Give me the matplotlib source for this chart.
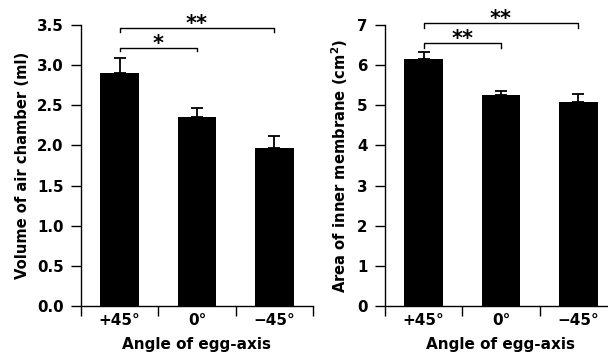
import matplotlib
matplotlib.use("Agg")
import matplotlib.pyplot as plt
from matplotlib.transforms import offset_copy

plt.rcParams['font.family'] = ['DejaVu Sans']
plt.rcParams['font.weight'] = 'bold'
plt.rcParams['mathtext.fontset'] = 'custom'
plt.rcParams['mathtext.rm'] = 'DejaVu Sans:bold'
plt.rcParams['mathtext.bf'] = 'DejaVu Sans:bold'

categories = ["+45°", "0°", "\u221245°"]
volume = [2.90, 2.36, 1.97]
volume_err = [0.19, 0.11, 0.15]
area = [6.15, 5.26, 5.08]
area_err = [0.17, 0.10, 0.20]

xlabel = "Angle of egg-axis"
ylabel_left = "Volume of air chamber (ml)"
ylabel_right = "Area of inner membrane (cm$^{2}$)"

left_brackets = [(0, 1, 3.21, 3.17, "*"), (0, 2, 3.46, 3.41, "**")]
right_brackets = [(0, 1, 6.56, 6.43, "**"), (0, 2, 7.06, 6.92, "**")]

fig = plt.figure(figsize=(6.08, 3.57), dpi=100)
W, H = 608, 357

def make_ax(x0, x1, ytop, ybot):
    return fig.add_axes([x0 / W, (H - ybot) / H, (x1 - x0) / W, (ybot - ytop) / H])

axL = make_ax(81, 313, 25, 306)
axR = make_ax(385, 617, 25, 306)

def draw(ax, vals, errs, ylim, yticks, yticklabels, ylabel, brackets):
    x = list(range(len(categories)))
    ax.bar(x, vals, width=0.5, color='black', zorder=2)
    ax.errorbar(x, vals, yerr=[[0] * len(errs), errs], fmt='none', ecolor='black',
                elinewidth=1.3, capsize=4, capthick=1.3, zorder=1)
    ax.set_xlim(-0.5, 2.5)
    ax.set_ylim(*ylim)
    ax.set_yticks(yticks)
    ax.set_yticklabels(yticklabels, fontsize=10.8, fontweight='bold')
    ax.set_xticks([-0.5, 0.5, 1.5, 2.5])
    ax.set_xticklabels([])
    ax.tick_params(axis='x', direction='out', length=7, width=1)
    ax.tick_params(axis='y', direction='out', length=7.5, width=1, pad=5)
    for i, c in enumerate(categories):
        ax.text(i, -0.025, c, transform=ax.get_xaxis_transform(), ha='center', va='top',
                fontsize=11, fontweight='bold')
    ax.text(0.5, -0.11, xlabel, transform=ax.transAxes, ha='center', va='top',
            fontsize=11, fontweight='bold')
    ax.set_ylabel(ylabel, fontsize=10.6, fontweight='bold', labelpad=5)
    for s in ['top', 'right']:
        ax.spines[s].set_visible(False)
    for s in ['left', 'bottom']:
        ax.spines[s].set_linewidth(1)
    star_tr = offset_copy(ax.transData, fig=fig, x=0, y=-1.5, units='points')
    for a, b, y, yl, lab in brackets:
        ax.plot([a, a, b, b], [yl, y, y, yl], color='black', lw=1, clip_on=False)
        ax.text((a + b) / 2, y, lab, ha='center', va='baseline', fontsize=15,
                fontweight='bold', clip_on=False, transform=star_tr)

draw(axL, volume, volume_err, (0, 3.5), [0, 0.5, 1.0, 1.5, 2.0, 2.5, 3.0, 3.5],
     ["0.0", "0.5", "1.0", "1.5", "2.0", "2.5", "3.0", "3.5"], ylabel_left, left_brackets)
draw(axR, area, area_err, (0, 7), list(range(8)), [str(i) for i in range(8)],
     ylabel_right, right_brackets)

fig.savefig("out.png", dpi=100)
